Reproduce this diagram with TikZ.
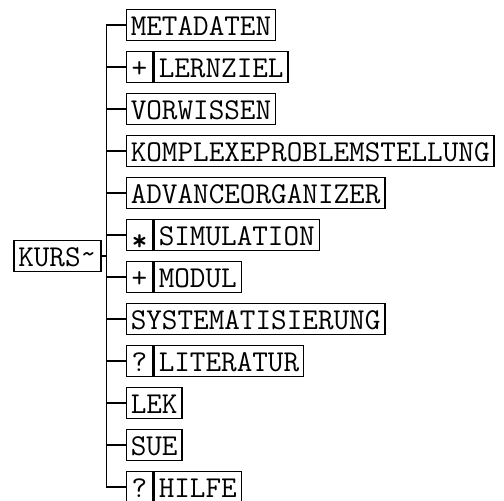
\documentclass[tikz,border=0pt]{standalone}
\usepackage{fontspec}
\begin{document}
\begin{tikzpicture}[x=1pt,y=-1pt,
  box/.style={draw=black, line width=1.5pt, inner xsep=4.5pt, inner ysep=0pt,
    text height=25.5pt, text depth=5.5pt, anchor=west,
    font=\ttfamily\fontsize{30.3}{30.3}\selectfont},
  pre/.style={box, minimum width=26.5pt},
  conn/.style={line width=1.5pt, line cap=rect}]
\useasboundingbox (0,0) rectangle (504,501);
\coordinate (t) at (106.5,0);
\def\bx{125.5}
\node[box] (a0) at (\bx,25) {METADATEN};
\node[pre] (p1) at (\bx,67) {+};
\node[box] (a1) at (p1.east) {LERNZIEL};
\node[box] (a2) at (\bx,109) {VORWISSEN};
\node[box] (a3) at (\bx,151) {KOMPLEXEPROBLEMSTELLUNG};
\node[box] (a4) at (\bx,193) {ADVANCEORGANIZER};
\node[pre] (p5) at (\bx,235) {\raisebox{-5pt}{\bfseries *}};
\node[box] (a5) at (p5.east) {SIMULATION};
\node[pre] (p6) at (\bx,277) {+};
\node[box] (a6) at (p6.east) {MODUL};
\node[box] (a7) at (\bx,319) {SYSTEMATISIERUNG};
\node[pre] (p8) at (\bx,361) {?};
\node[box] (a8) at (p8.east) {LITERATUR};
\node[box] (a9) at (\bx,403) {LEK};
\node[box] (a10) at (\bx,445) {SUE};
\node[pre] (p11) at (\bx,487) {?};
\node[box] (a11) at (p11.east) {HILFE};
\node[box] (kurs) at (13,256) {KURS\raisebox{3pt}{\textasciitilde}};
\draw[conn] (a0.west) -- (a0.west -| t) -- (p11.west -| t) -- (p11.west);
\foreach \n in {p1,a2,a3,a4,p5,p6,a7,p8,a9,a10}
  \draw[conn] (\n.west) -- (\n.west -| t);
\draw[conn] (kurs.east) -- (kurs.east -| t);
\end{tikzpicture}
\end{document}
